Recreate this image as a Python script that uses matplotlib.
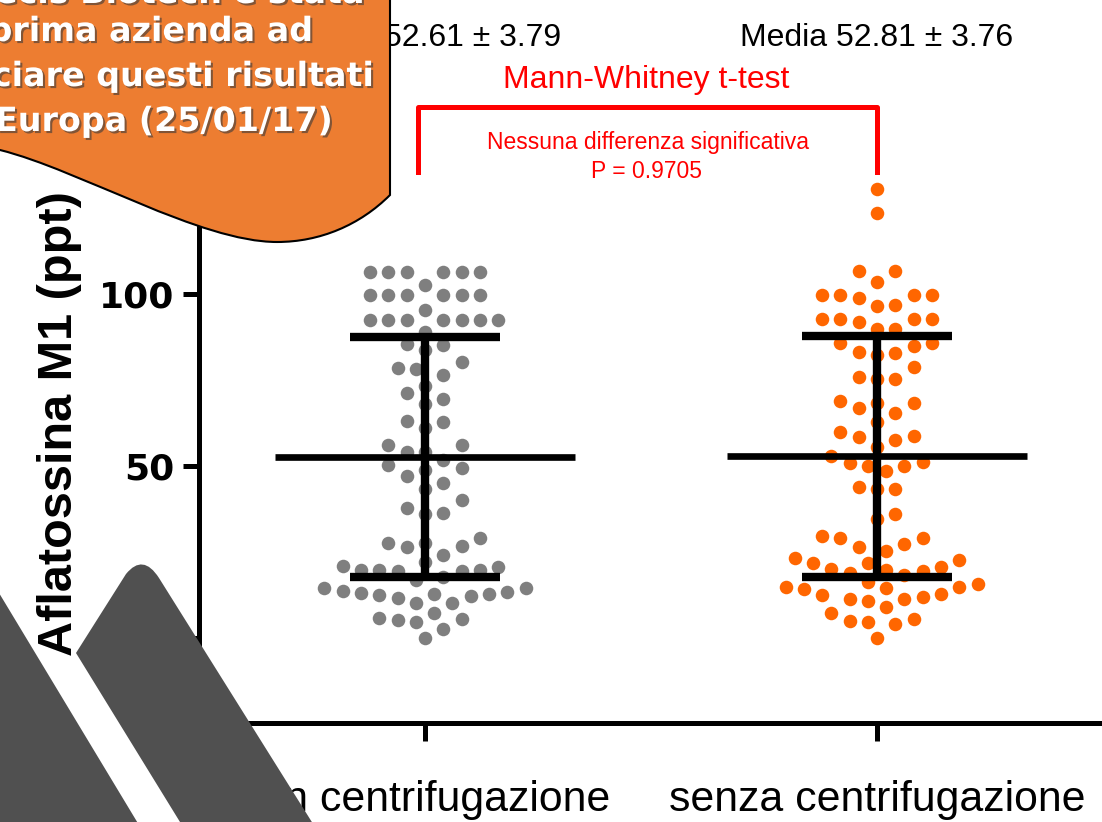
import numpy as np
import matplotlib
matplotlib.use("Agg")
import matplotlib.pyplot as plt
from matplotlib.path import Path
from matplotlib.patches import PathPatch
import matplotlib.patheffects as pe

# data (ppt)
groups = ["con centrifugazione", "senza centrifugazione"]
con_vals = [
    106.5, 106.5, 106.5, 106.5, 106.5, 106.5,
    102.6,
    99.7, 99.7, 99.7, 99.7, 99.7, 99.7,
    95.3,
    92.4, 92.4, 92.4, 92.4, 92.4, 92.4, 92.4,
    89.0, 85.2, 83.7, 85.5,
    80.2, 78.5, 78.2, 76.5,
    73.3, 71.2, 69.5, 68.0,
    62.8, 63.1, 61.0,
    56.1, 56.1, 54.1, 54.1,
    51.7, 49.4, 47.1, 48.8, 50.3,
    43.3, 45.1, 40.1,
    36.3, 36.0, 37.8,
    27.6, 26.7, 27.6, 29.1, 26.5, 24.1,
    22.1, 20.6, 19.8, 19.5, 17.7, 19.5, 19.8, 19.8, 20.9, 16.9,
    14.5, 13.4, 12.8, 12.5, 10.2, 11.6, 12.2, 12.8, 13.1, 13.7, 14.5, 10.2,
    5.5, 4.7, 7.3, 5.8, 2.6, 5.2, 0.0]
senza_vals = [
    130.5, 123.5,
    106.7, 106.7, 103.5,
    99.7, 99.7, 98.8, 99.7, 99.7,
    96.5, 96.8,
    92.7, 92.7, 91.9, 92.7, 92.7,
    89.8, 89.8,
    85.8, 84.9, 85.8,
    82.8, 82.3, 83.1,
    78.8, 75.3, 75.3, 75.9,
    68.9, 68.3, 66.9, 68.3, 65.4, 62.8,
    59.9, 58.4, 57.6, 58.7,
    55.5, 52.9, 50.9, 50.0, 48.5, 50.0, 51.2,
    43.9, 43.3, 43.3,
    36.0, 34.6,
    29.1, 27.3, 25.3, 26.5, 29.1, 29.7,
    23.3, 21.8, 20.6, 19.8, 18.9, 18.3, 19.5, 20.1, 21.8, 22.7,
    15.7, 14.8, 14.2, 12.5, 11.3, 10.8, 11.3, 9.0, 11.9, 12.8, 14.5, 14.8, 16.3,
    7.3, 4.7, 5.5, 4.1, 4.9, 0.0]
means = [52.61, 52.81]
sem = [3.79, 3.76]
sd = [35.0, 35.0]
p_value = 0.9705
yticks = [0, 50, 100, 150]

colors = ["#7F7F7F", "#FF6600"]
red = "#FF0000"

fig = plt.figure(figsize=(11.02, 8.22), dpi=100)
ax = fig.add_axes([199 / 1102, 99 / 822, 904 / 1102, 601 / 822])
ax.set_xlim(-0.5, 1.5)
ax.set_ylim(-24.7, 150)


def swarm(vals, center, min_d=18.0, step=9.15):
    # simple beeswarm in pixel space, lowest values placed first
    vals = np.asarray(vals, dtype=float)
    ypx = ax.transData.transform(np.c_[np.zeros(len(vals)), vals])[:, 1]
    unit = ax.transData.transform((1, 0))[0] - ax.transData.transform((0, 0))[0]
    cands = [0.0] + [s * k * step for k in range(1, 40) for s in (1, -1)]
    placed = []
    offs = np.zeros(len(vals))
    for i in np.argsort(vals, kind="stable"):
        y = ypx[i]
        for c in cands:
            if all((c - px) ** 2 + (y - py) ** 2 >= min_d ** 2 for px, py in placed):
                break
        placed.append((c, y))
        offs[i] = c
    return center + offs / unit


for i, vals in enumerate([con_vals, senza_vals]):
    ax.scatter(swarm(vals, i), vals, s=95, color=colors[i], linewidths=0, zorder=2)

xs = np.arange(len(groups))
ax.errorbar(xs, means, yerr=sd, fmt="none", ecolor="black", elinewidth=6,
            capsize=54, capthick=6, zorder=3)
ax.hlines(means, xs - 0.332, xs + 0.332, color="black", linewidth=4.8, zorder=3)

for sp in ["top", "right"]:
    ax.spines[sp].set_visible(False)
for sp in ["left", "bottom"]:
    ax.spines[sp].set_linewidth(3.6)

ax.set_yticks(yticks)
ax.tick_params(axis="y", length=11.5, width=3.6, pad=6, labelsize=26)
for lab in ax.get_yticklabels():
    lab.set_fontfamily("DejaVu Sans")
    lab.set_fontweight("bold")
ax.set_xticks(xs, groups, fontsize=30.8, family="Liberation Sans")
ax.tick_params(axis="x", length=13, width=3.6, pad=28)

fig.text(60 / 1102, 1 - 424 / 822, "Aflatossina M1 (ppt)", rotation=90,
         ha="center", va="center", fontsize=35, fontweight="bold",
         family="Liberation Sans")

# summary text and test bracket
for i in xs:
    ax.text(i, 174.4, f"Media {means[i]:.2f} \u00b1 {sem[i]:.2f}", ha="center",
            va="center", fontsize=23, family="Liberation Sans", clip_on=False)
ax.text(0.49, 162.3, "Mann-Whitney t-test", ha="center", va="center", color=red,
        fontsize=23, family="Liberation Sans", clip_on=False)
ax.plot([-0.0155, -0.0155, 1.0, 1.0], [135.5, 154.4, 154.4, 135.5], color=red,
        linewidth=3.6, solid_joinstyle="round", clip_on=False, zorder=4)
ax.text(0.493, 143.9, "Nessuna differenza significativa", ha="center", va="center",
        color=red, fontsize=16.5, family="Liberation Sans", clip_on=False)
ax.text(0.49, 135.5, f"P = {p_value}", ha="center", va="center", color=red,
        fontsize=16.5, family="Liberation Sans", clip_on=False)

# slide decorations on top (pixel coords)
ov = fig.add_axes([0, 0, 1, 1])
ov.set_xlim(0, 1102)
ov.set_ylim(822, 0)
ov.axis("off")
ov.patch.set_alpha(0)
ov.set_zorder(5)

M, L, C4, C3, CL = Path.MOVETO, Path.LINETO, Path.CURVE4, Path.CURVE3, Path.CLOSEPOLY
callout = Path([(-5, -5), (390, -5), (390, 195), (360, 225), (320, 242), (277, 242),
                (200, 242), (80, 170), (0, 150), (-5, 150), (-5, -5)],
               [M, L, L, C4, C4, C4, C4, C4, C4, L, CL])
ov.add_patch(PathPatch(callout, facecolor="#ED7D31", edgecolor="black", linewidth=1.5))

shadow = [pe.withSimplePatchShadow(offset=(1.5, -1.5), shadow_rgbFace="#3a3a3a", alpha=0.6)]
lines = [("La Precis Biotech è stata", 365, 3),
         ("la prima azienda ad", 313, 41),
         ("ad annunciare questi risultati", 374, 86),
         ("in Europa (25/01/17)", 333, 131)]
for s, xr, yb in lines:
    ov.text(xr, yb, s, ha="right", va="baseline", color="white", fontsize=24,
            fontweight="bold", family="DejaVu Sans", path_effects=shadow)

gray = "#505050"
band_left = Path([(-10, 578), (145, 835), (-10, 835), (-10, 578)], [M, L, L, CL])
band_right = Path([(188, 835), (76, 653), (126, 574), (143, 553), (159, 578),
                   (320, 835), (188, 835)], [M, L, L, C3, C3, L, CL])
ov.add_patch(PathPatch(band_left, facecolor=gray, edgecolor="none"))
ov.add_patch(PathPatch(band_right, facecolor=gray, edgecolor="none"))

fig.savefig("out.png", dpi=100)
